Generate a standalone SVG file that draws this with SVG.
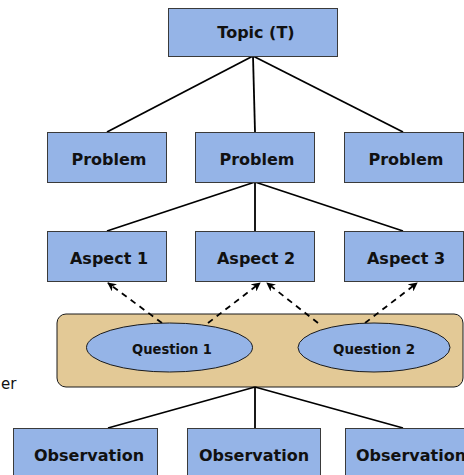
<svg xmlns="http://www.w3.org/2000/svg" width="464" height="475" viewBox="0 0 464 475">
  <style>
    .box { fill: #95b4e7; stroke: #3a3a3a; stroke-width: 1; }
    .ell { fill: #95b4e7; stroke: #1a1a1a; stroke-width: 1; }
    .group { fill: #e3c996; stroke: #1a1a1a; stroke-width: 1; }
    .lbl { font-family: "DejaVu Sans", sans-serif; font-weight: bold; font-size: 16px; fill: #111; text-anchor: middle; }
    .qlbl { font-family: "DejaVu Sans", sans-serif; font-weight: bold; font-size: 14.5px; fill: #111; text-anchor: middle; }
    .side { font-family: "DejaVu Sans", sans-serif; font-size: 15px; fill: #111; }
    .edge { stroke: #000; stroke-width: 1.8; fill: none; }
    .dash { stroke: #000; stroke-width: 1.8; fill: none; stroke-dasharray: 6 5; marker-end: url(#head); }
  </style>
  <defs>
    <marker id="head" viewBox="0 0 10 10" refX="9" refY="5" markerWidth="9" markerHeight="9" markerUnits="userSpaceOnUse" orient="auto">
      <path d="M0,0 L10,5 L0,10 L3,5 Z" fill="#000"/>
    </marker>
  </defs>

  <!-- question container -->
  <g id="questions">
    <rect class="group" x="57" y="314" width="406" height="73" rx="9"/>
  </g>

  <g id="connectors">
    <!-- topic to problems -->
    <line class="edge" x1="253" y1="56" x2="107" y2="132"/>
    <line class="edge" x1="253" y1="56" x2="255" y2="132"/>
    <line class="edge" x1="253" y1="56" x2="403" y2="132"/>
    <!-- problem to aspects -->
    <line class="edge" x1="255" y1="182" x2="107" y2="231"/>
    <line class="edge" x1="255" y1="182" x2="255" y2="231"/>
    <line class="edge" x1="255" y1="182" x2="403" y2="231"/>
    <!-- questions to aspects -->
    <line class="dash" x1="162" y1="323" x2="108" y2="283"/>
    <line class="dash" x1="208" y1="323" x2="260" y2="283"/>
    <line class="dash" x1="318" y1="323" x2="267" y2="283"/>
    <line class="dash" x1="365" y1="323" x2="417" y2="283"/>
    <!-- container to observations -->
    <line class="edge" x1="255" y1="387" x2="108" y2="428"/>
    <line class="edge" x1="255" y1="387" x2="255" y2="428"/>
    <line class="edge" x1="255" y1="387" x2="403" y2="428"/>
  </g>

  <g id="topic">
    <rect class="box" x="168.5" y="8.5" width="169" height="48"/>
    <text class="lbl" x="256" y="38">Topic (T)</text>
  </g>

  <g id="problem1">
    <rect class="box" x="47.5" y="132.5" width="119" height="50"/>
    <text class="lbl" x="109" y="165">Problem</text>
  </g>
  <g id="problem2">
    <rect class="box" x="195.5" y="132.5" width="119" height="50"/>
    <text class="lbl" x="257" y="165">Problem</text>
  </g>
  <g id="problem3">
    <rect class="box" x="344.5" y="132.5" width="119" height="50"/>
    <text class="lbl" x="406" y="165">Problem</text>
  </g>

  <g id="aspect1">
    <rect class="box" x="47.5" y="231.5" width="119" height="50"/>
    <text class="lbl" x="109" y="264">Aspect 1</text>
  </g>
  <g id="aspect2">
    <rect class="box" x="195.5" y="231.5" width="119" height="50"/>
    <text class="lbl" x="256" y="264">Aspect 2</text>
  </g>
  <g id="aspect3">
    <rect class="box" x="344.5" y="231.5" width="119" height="50"/>
    <text class="lbl" x="406" y="264">Aspect 3</text>
  </g>

  <g id="question1">
    <ellipse class="ell" cx="169.5" cy="347.5" rx="83" ry="24.5"/>
    <text class="qlbl" x="172" y="354" textLength="80" lengthAdjust="spacingAndGlyphs">Question 1</text>
  </g>
  <g id="question2">
    <ellipse class="ell" cx="374" cy="347.5" rx="76" ry="24.5"/>
    <text class="qlbl" x="374" y="354" textLength="82" lengthAdjust="spacingAndGlyphs">Question 2</text>
  </g>

  <text class="side" x="1" y="389">er</text>

  <g id="observation1">
    <rect class="box" x="13.5" y="428.5" width="144" height="60"/>
    <text class="lbl" x="89" y="461">Observation</text>
  </g>
  <g id="observation2">
    <rect class="box" x="187.5" y="428.5" width="133" height="60"/>
    <text class="lbl" x="254" y="461">Observation</text>
  </g>
  <g id="observation3">
    <rect class="box" x="345.5" y="428.5" width="130" height="60"/>
    <text class="lbl" x="411" y="461">Observation</text>
  </g>
</svg>
